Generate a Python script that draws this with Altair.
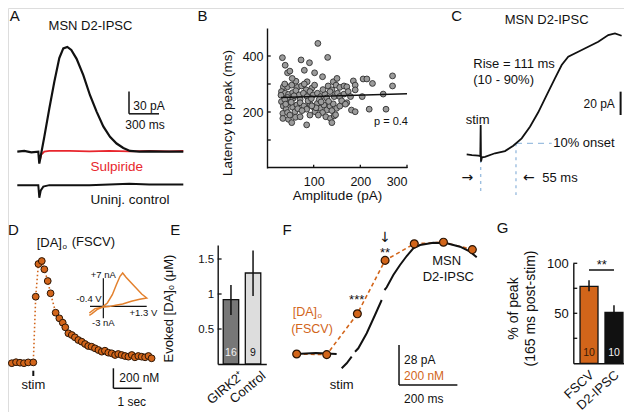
import altair as alt
import pandas as pd

FONT = "Liberation Sans"
ARROWFONT = "DejaVu Sans"
BLACK = "#111111"
ORANGE = "#d2651a"
CVORANGE = "#e3812e"
RED = "#e8262d"
BLUE = "#9dbfe0"
DARKSTROKE = "#2a1506"
OFF = 8.0

# ---------------- data ----------------
# A: D2-IPSC traces (time ms, current pA; control traces offset for display)
a_ipsc_t = [-220, -150, -80, -10, 0, 50, 100, 150, 200, 240, 280, 320, 373, 440, 507, 573, 640, 707, 773, 840, 907, 1000, 1100, 1250, 1440]
a_ipsc_pa = [0, 1, -1, 0, -16, 20, 58, 94, 126, 139, 141, 137, 125, 103, 76, 54, 34, 20, 11, 5, 1, 0, 0.5, 0, 0]
a_sulp_t = [5, 20, 50, 100, 300, 500, 700, 900, 1100, 1300, 1440]
a_sulp_pa = [-12, -4, 0, 1, 1, 0.5, 1, 0.5, 1, 0.5, 1]
a_ctrl_t = [-220, -100, -10, 0, 15, 40, 100, 300, 500, 700, 900, 1100, 1300, 1440]
a_ctrl_pa = [-45, -45, -45, -62, -52, -47, -45, -45, -45, -44, -43, -44, -44, -44]

# B: latency to peak vs amplitude
b_amp = [109, 33, 73, 91, 130, 39, 80, 44, 49, 102,
         119, 86, 35, 44, 53, 65, 74, 84, 96, 102, 142, 148, 131, 139, 156, 165, 171, 185, 189, 206, 214, 226, 269, 269,
         31, 39, 46, 55, 62, 69, 78, 86, 92, 99, 108, 115, 124, 135, 144, 151, 156, 165, 174, 179, 189, 204, 249, 44, 56, 71,
         31, 35, 41, 48, 55, 64, 71, 79, 85, 92, 99, 108, 114, 122, 128, 135, 142, 149, 156, 171, 181, 189, 219, 255, 34, 44, 60, 103, 119, 139,
         34, 46, 53, 61, 71, 85, 92, 110, 126, 136, 139, 144, 49,
         38, 52, 66, 75, 88, 112, 120, 128, 160, 147, 40, 58, 95, 105, 132, 168, 30, 80, 62, 54, 150, 38, 96, 116]
b_lat = [445, 394, 386, 376, 395, 367, 349, 340, 346, 340,
         326, 308, 290, 290, 296, 288, 293, 279, 285, 296, 308, 296, 293, 279, 288, 293, 290, 311, 296, 318, 318, 302, 329, 293,
         273, 267, 263, 269, 276, 261, 267, 255, 273, 261, 267, 255, 264, 273, 255, 267, 255, 264, 273, 255, 279, 255, 264, 252, 249, 245,
         237, 221, 210, 231, 217, 225, 233, 221, 210, 229, 219, 231, 213, 225, 207, 221, 229, 213, 221, 233, 207, 201, 210, 210, 195, 198, 201, 201, 198, 205,
         177, 174, 162, 181, 183, 154, 189, 189, 183, 177, 162, 186, 189,
         245, 235, 212, 205, 240, 245, 280, 250, 240, 190, 228, 258, 248, 215, 238, 228, 260, 300, 310, 320, 320, 300, 222, 236]
b_fit_amp = [30, 300]
b_fit_lat = [252, 265]

# C: expanded D2-IPSC rise (ms, pA)
c_t = [-21.8, -13.6, -3.7, -0.6, 0, 0.5, 2, 6.7, 22.3, 37.9, 50.8, 63.9, 76.8, 89.7, 102.8, 115.7, 126.2, 136.4, 152, 167.6, 183.2, 198.8, 209.2, 219.6]
c_pa = [0.6, 0, -0.6, -1, 25.7, -5.7, -2, -1.5, 1.5, 3.4, 8, 14.3, 24.3, 36.6, 51.4, 65.7, 77.1, 84.2, 88.5, 92.8, 97.1, 102.8, 104.3, 102.2]

# D: FSCV [DA]o time course (s, nM)
d_t = [-0.76, -0.61, -0.47, -0.33, -0.18, 0.0, 0.085, 0.18, 0.30, 0.39, 0.51, 0.61, 0.79, 0.92, 1.04, 1.13, 1.24, 1.36, 1.47, 1.59, 1.71,
       1.83, 1.94, 2.06, 2.18, 2.30, 2.42, 2.53, 2.65, 2.77, 2.89, 3.00, 3.12, 3.24, 3.36, 3.48, 3.59, 3.71, 3.83, 3.95, 4.07, 4.18]
d_nm = [-5, 5, 0, -5, 3, 3, 660, 987, 1017, 934, 817, 694, 500, 444, 400, 354, 294, 277, 254, 227, 210,
        187, 167, 160, 144, 127, 110, 120, 100, 94, 77, 87, 77, 67, 60, 77, 54, 67, 60, 54, 67, 44]
# D inset: cyclic voltammogram (V, nA)
cv_v = [-0.42, -0.25, -0.04, 0.17, 0.37, 0.58, 0.84, 1.09, 1.30, 1.15, 0.89, 0.68, 0.58, 0.50, 0.39, 0.27, 0.12, -0.04, -0.19, -0.35, -0.42]
cv_na = [-1.67, -0.58, -0.25, -0.08, 0.25, 0.58, 1.25, 1.75, 2.08, 3.08, 5.4, 7.25, 8.33, 7.5, 5.4, 2.9, 0.83, -0.25, -0.83, -1.9, -2.25]

# E: evoked [DA]o (uM)
e_groups = ["GIRK2\u207a", "Control"]
e_mean = [0.92, 1.30]
e_lo = [0.70, 0.97]
e_hi = [1.13, 1.62]
e_n = ["16", "9"]

# F: overlay FSCV (nM) and D2-IPSC (pA)
f_dot_t = [-145, -42, 63, 158, 258, 358, 457]
f_dot_nm = [0, -3, 201, 468, 551, 559, 522]
f_ipsc_seg = [0, 0, 0, 1, 1, 1, 2, 2, 2, 2, 2, 3, 3, 3, 3, 3, 3, 3, 3, 3, 3, 3, 3]
f_ipsc_t = [-147, -79, -8, 9.3, 26.4, 43.5, 54.9, 66.2, 95, 123.4, 146.4, 156, 163.5, 186.2, 209.1, 232.1, 254.7, 277.7, 323.3, 369.2, 414.8, 449.1, 472]
f_ipsc_pa = [0, 0.7, 0, -10, -6.5, -1.9, 1.6, 4, 14.5, 27.3, 37.8, 44.8, 46.7, 55.3, 62.3, 68.6, 74, 76.3, 77.9, 77.5, 75.1, 71.6, 67.7]

# G: % of peak at 165 ms post-stim
g_groups = ["FSCV", "D2-IPSC"]
g_mean = [77, 51]
g_lo = [72, 45]
g_hi = [83, 58]
g_n = ["10", "10"]

# ---------------- panel scales ----------------
PANELS = {
    "A": dict(x=((-250, 1500), (14.3, 189.3)), y=((-70, 175), (203.7, 21.7))),
    "B": dict(x=((0, 300), (267, 407)), y=((0, 500), (168, 28))),
    "C": dict(x=((-40, 225), (455.0, 625.1)), y=((-40, 120), (201.7, 15.0))),
    "D": dict(x=((-0.85, 4.5), (9.25, 160.65)), y=((-450, 1350), (407.7, 227.7))),
    "CV": dict(x=((-0.4, 1.3), (90, 146.7)), y=((-3, 7), (318.3, 278.3))),
    "E": dict(x=((0, 1), (217.7, 266.3)), y=((0, 1.7), (364, 245))),
    "F": dict(x=((-185, 500), (285.0, 484.9)), y=((-330, 650), (420, 224))),
    "Fpa": dict(x=((-185, 500), (285.0, 484.9)), y=((-46.2, 91), (420, 224))),
    "G": dict(x=((0, 1), (573.3, 629.7)), y=((0, 100), (363.3, 263.3))),
}
BANDS = {
    "E": dict(domain=e_groups, rng=(217.7, 266.3), pi=0.3, po=0.25),
    "G": dict(domain=g_groups, rng=(573.3, 629.7), pi=0.28, po=0.27),
}


def lin(p, ch):
    dom, rng = PANELS[p][ch]
    return alt.Scale(domain=list(dom), range=[rng[0] - OFF, rng[1] - OFF], nice=False, zero=False)


def band(p):
    b = BANDS[p]
    return alt.Scale(type="band", domain=b["domain"], range=[b["rng"][0] - OFF, b["rng"][1] - OFF],
                     paddingInner=b["pi"], paddingOuter=b["po"])


def xq(field, p, axis=None):
    return alt.X(f"{field}:Q", scale=lin(p, "x"), axis=axis)


def yq(field, p, axis=None):
    return alt.Y(f"{field}:Q", scale=lin(p, "y"), axis=axis)


def xb(field, p, axis=None):
    return alt.X(f"{field}:N", scale=band(p), axis=axis, sort=BANDS[p]["domain"])


layers = []


def add(c):
    layers.append(c)


def line(xs, ys, p, color=BLACK, width=2.0, dash=None, seg=None, order=False, yp=None):
    d = {"x": xs, "y": ys}
    if seg is not None:
        d["seg"] = seg
    if order:
        d["i"] = list(range(len(xs)))
    df = pd.DataFrame(d)
    kw = dict(color=color, strokeWidth=width)
    if dash:
        kw["strokeDash"] = dash
    enc = dict(x=xq("x", p), y=yq("y", yp or p))
    if seg is not None:
        enc["detail"] = "seg:N"
    if order:
        enc["order"] = alt.Order("i:Q")
    add(alt.Chart(df).mark_line(**kw).encode(**enc))


def rules(rows, p, color=BLACK, width=1.5, dash=None):
    df = pd.DataFrame(rows, columns=["x", "y", "x2", "y2"])
    kw = dict(color=color, strokeWidth=width)
    if dash:
        kw["strokeDash"] = dash
    add(alt.Chart(df).mark_rule(**kw).encode(x=xq("x", p), y=yq("y", p), x2="x2:Q", y2="y2:Q"))


def texts(rows, p, size=13, color=BLACK, align="center", baseline="middle", font=FONT):
    df = pd.DataFrame(rows, columns=["text", "x", "y"])
    add(alt.Chart(df).mark_text(font=font, fontSize=size, color=color, align=align, baseline=baseline)
        .encode(x=xq("x", p), y=yq("y", p), text="text:N"))


AX = dict(labelFont=FONT, labelColor=BLACK, titleFont=FONT, titleColor=BLACK, titleFontWeight="normal",
          domainColor=BLACK, domainWidth=1.4, grid=False, ticks=False)

# ---------------- A ----------------
line(a_sulp_t, a_sulp_pa, "A", color=RED, width=1.8)
line(a_ctrl_t, a_ctrl_pa, "A", width=2.0)
line(a_ipsc_t, a_ipsc_pa, "A", width=2.2)
rules([(897, 51, 897, 81), (897, 51, 1197, 51)], "A", width=1.5)
texts([("MSN D2-IPSC", 512, 169.4)], "A", size=13)
texts([("Sulpiride", 774, -20.2)], "A", size=13.5, color=RED)
texts([("Uninj. control", 907, -65)], "A", size=13.5)
texts([("30 pA", 940, 62)], "A", size=12, align="left")
texts([("300 ms", 1057, 36)], "A", size=12)

# ---------------- B ----------------
dfB = pd.DataFrame({"amp": b_amp, "lat": b_lat})
add(alt.Chart(dfB).mark_circle(color="#9b9b9b", stroke="#303030", strokeWidth=0.9, size=34, opacity=1).encode(
    x=xq("amp", "B", axis=alt.Axis(orient="bottom", offset=-245, values=[100, 200, 300], labelFontSize=12.5,
                                   labelPadding=8, title="Amplitude (pA)", titleFontSize=13.5, titleY=28,
                                   titleBaseline="middle", **AX)),
    y=yq("lat", "B", axis=alt.Axis(orient="left", offset=-259, values=[200, 400], labelFontSize=12.5,
                                   labelPadding=4, title="Latency to peak (ms)", titleFontSize=13.5,
                                   titleX=-39.5, titleY=104.5, titleAngle=270, titleBaseline="middle",
                                   titleAlign="center", **AX)),
))
line(b_fit_amp, b_fit_lat, "B", width=1.6)
rules([(0, v, 8, v) for v in [100, 200, 300, 400]] + [(v, 0, v, 12) for v in [100, 200, 300]], "B", width=1.3)
texts([("p = 0.4", 265.7, 165)], "B", size=11)

# ---------------- C ----------------
rules([(0, -4.3, 0, -34.3), (55, 10, 55, -34.3)], "C", color=BLUE, width=1.4, dash=[3, 4])
rules([(55, 10, 110.6, 10)], "C", color=BLUE, width=1.4, dash=[6, 5])
line(c_t, c_pa, "C", width=1.8)
rules([(218, 34.3, 218, 54.3)], "C", width=2)
texts([("MSN D2-IPSC", 102.8, 115.7), ("stim", -4.7, 30)], "C", size=13)
texts([("Rise = 111 ms", -11.5, 77.7), ("(10 - 90%)", -11.5, 64.3), ("10% onset", 113, 10),
       ("55 ms", 96, -20)], "C", size=13, align="left")
texts([("\u2192", -20.6, -20), ("\u2190", 75.2, -20)], "C", size=14, font=ARROWFONT)
texts([("20 pA", 209, 43.4)], "C", size=12, align="right")

# ---------------- D ----------------
line(d_t, d_nm, "D", color=ORANGE, width=1.6, dash=[1.5, 2.5])
dfD = pd.DataFrame({"t": d_t, "nm": d_nm})
add(alt.Chart(dfD).mark_circle(color=ORANGE, stroke=DARKSTROKE, strokeWidth=1, size=46, opacity=1).encode(
    x=xq("t", "D"), y=yq("nm", "D")))
rules([(0, -80, 0, -133)], "D", width=2)
rules([(2.83, -56, 2.83, -256), (2.83, -256, 3.83, -256)], "D", width=1.5)
texts([("[DA]", 0.12, 1202), ("(FSCV)", 1.357, 1207)], "D", size=13, align="left")
texts([("o", 1.03, 1157)], "D", size=8, align="left")
texts([("stim", 0, -223)], "D", size=13)
texts([("200 nM", 3.04, -156)], "D", size=12, align="left")
texts([("1 sec", 3.48, -390)], "D", size=12)
# inset CV
rules([(0, -3, 0, 7), (-0.4, 0, 1.3, 0)], "CV", width=1.2)
line(cv_v, cv_na, "CV", color=CVORANGE, width=1.5, order=True)
texts([("+7 nA", 0, 7.83), ("+1.3 V", 1.2, -1.75), ("-3 nA", 0, -4.1)], "CV", size=9.5)
texts([("-0.4 V", -0.049, 1.75)], "CV", size=9.5, align="right")

# ---------------- E ----------------
dfE = pd.DataFrame({"g": e_groups, "m": e_mean, "lo": e_lo, "hi": e_hi, "n": e_n})
add(alt.Chart(dfE).mark_bar(stroke=BLACK, strokeWidth=1.3).encode(
    x=xb("g", "E", axis=alt.Axis(orient="bottom", offset=-48, labelAngle=320, labelAlign="right",
                                 labelBaseline="top", labelOffset=7, labelPadding=5, labelFontSize=13,
                                 title=None, **AX)),
    y=yq("m", "E", axis=alt.Axis(orient="left", offset=-209.7, values=[0.5, 1, 1.5], labelExpr="'' + datum.value",
                                 labelFontSize=11.5, labelPadding=4, title="Evoked [DA]\u2092 (\u03bcM)",
                                 titleFontSize=13, titleX=-49.5, titleY=300, titleAngle=270,
                                 titleBaseline="middle", titleAlign="center", **AX)),
    color=alt.Color("g:N", scale=alt.Scale(domain=e_groups, range=["#777777", "#dddddd"]), legend=None),
))
add(alt.Chart(dfE).mark_rule(color=BLACK, strokeWidth=1.5).encode(x=xb("g", "E"), y=yq("lo", "E"), y2="hi:Q"))
dfEn = pd.DataFrame({"g": e_groups, "n": e_n, "y": [0.153, 0.153]})
add(alt.Chart(dfEn).mark_text(font=FONT, fontSize=10.5, baseline="middle").encode(
    x=xb("g", "E"), y=yq("y", "E"), text="n:N",
    color=alt.Color("g:N", scale=alt.Scale(domain=e_groups, range=["#f2f2f2", BLACK]), legend=None)))
rules([(0, v, 0.08, v) for v in [0.5, 1, 1.5]], "E", width=1.3)

# ---------------- F ----------------
line(f_dot_t, f_dot_nm, "F", color=ORANGE, width=1.6, dash=[4, 3])
line(f_ipsc_t, f_ipsc_pa, "F", width=2.0, seg=f_ipsc_seg, yp="Fpa")
dfF = pd.DataFrame({"t": f_dot_t, "nm": f_dot_nm})
add(alt.Chart(dfF).mark_circle(color=ORANGE, stroke=DARKSTROKE, strokeWidth=1.2, size=62, opacity=1).encode(
    x=xq("t", "F"), y=yq("nm", "F")))
rules([(205.7, -155, 205.7, 45), (205.7, -155, 405.7, -155)], "F", width=1.5)
texts([("[DA]", -75.4, 210)], "F", size=12.5, color=ORANGE, align="right")
texts([("o", -73.7, 190)], "F", size=8, color=ORANGE, align="left")
texts([("(FSCV)", -92.6, 125)], "F", size=12.5, color=ORANGE)
texts([("***", 60.7, 250), ("**", 157.7, 486)], "F", size=13, baseline="alphabetic")
texts([("\u2193", 157.7, 582)], "F", size=14, font=ARROWFONT)
texts([("stim", 9.3, -155), ("MSN", 369, 466.5), ("D2-IPSC", 374.7, 383.5)], "F", size=13)
texts([("28 pA", 222.9, -30), ("200 ms", 222.9, -225)], "F", size=12, align="left")
texts([("200 nM", 222.9, -108.5)], "F", size=12, color=ORANGE, align="left")

# ---------------- G ----------------
dfG = pd.DataFrame({"g": g_groups, "m": g_mean, "lo": g_lo, "hi": g_hi, "n": g_n})
add(alt.Chart(dfG).mark_bar(stroke=BLACK, strokeWidth=1.3).encode(
    x=xb("g", "G", axis=alt.Axis(orient="bottom", offset=-48.7, labelAngle=318, labelAlign="right",
                                 labelBaseline="top", labelOffset=-1, labelPadding=5, labelFontSize=13,
                                 title=None, **AX)),
    y=yq("m", "G", axis=alt.Axis(orient="left", offset=-565.3, values=[50, 100], labelFontSize=13,
                                 labelPadding=5, title=["% of peak", "(165 ms post-stim)"],
                                 titleFontSize=14, titleLineHeight=17, titleX=-60, titleY=300,
                                 titleAngle=270, titleBaseline="middle", titleAlign="center", **AX)),
    color=alt.Color("g:N", scale=alt.Scale(domain=g_groups, range=[ORANGE, BLACK]), legend=None),
))
add(alt.Chart(dfG).mark_rule(color=BLACK, strokeWidth=1.5).encode(x=xb("g", "G"), y=yq("lo", "G"), y2="hi:Q"))
dfGn = pd.DataFrame({"g": g_groups, "n": g_n, "y": [10, 10]})
add(alt.Chart(dfGn).mark_text(font=FONT, fontSize=10.5, baseline="middle").encode(
    x=xb("g", "G"), y=yq("y", "G"), text="n:N",
    color=alt.Color("g:N", scale=alt.Scale(domain=g_groups, range=["#3a1a05", "#f2f2f2"]), legend=None)))
dfGs = pd.DataFrame({"a": ["FSCV"], "b": ["D2-IPSC"], "y": [93.3]})
add(alt.Chart(dfGs).mark_rule(color=BLACK, strokeWidth=1.5).encode(x=xb("a", "G"), x2="b:N", y=yq("y", "G")))
texts([("**", 0.504, 94)], "G", size=13, baseline="alphabetic")
rules([(0, v, 0.07, v) for v in [25, 50, 75, 100]], "G", width=1.3)

# ---------------- panel letters ----------------
for letter, px, py in [("A", 14.7, 15.8), ("B", 202.5, 15.8), ("C", 456.7, 15.5), ("D", 13.3, 230),
                       ("E", 175.3, 230), ("F", 287, 229.7), ("G", 502.5, 228.3)]:
    add(alt.Chart(pd.DataFrame({"t": [letter]})).mark_text(font=FONT, fontSize=15, color=BLACK, align="center",
                                                           baseline="middle")
        .encode(x=alt.value(px - OFF), y=alt.value(py - OFF), text="t:N"))

chart = (alt.layer(*layers)
         .resolve_scale(x="independent", y="independent", color="independent")
         .properties(width=616, height=404, autosize=alt.AutoSizeParams(type="none"), padding=0)
         .configure_view(stroke=None)
         .configure(font=FONT))

chart.save("out.html", embed_options={"renderer": "svg", "actions": False})
